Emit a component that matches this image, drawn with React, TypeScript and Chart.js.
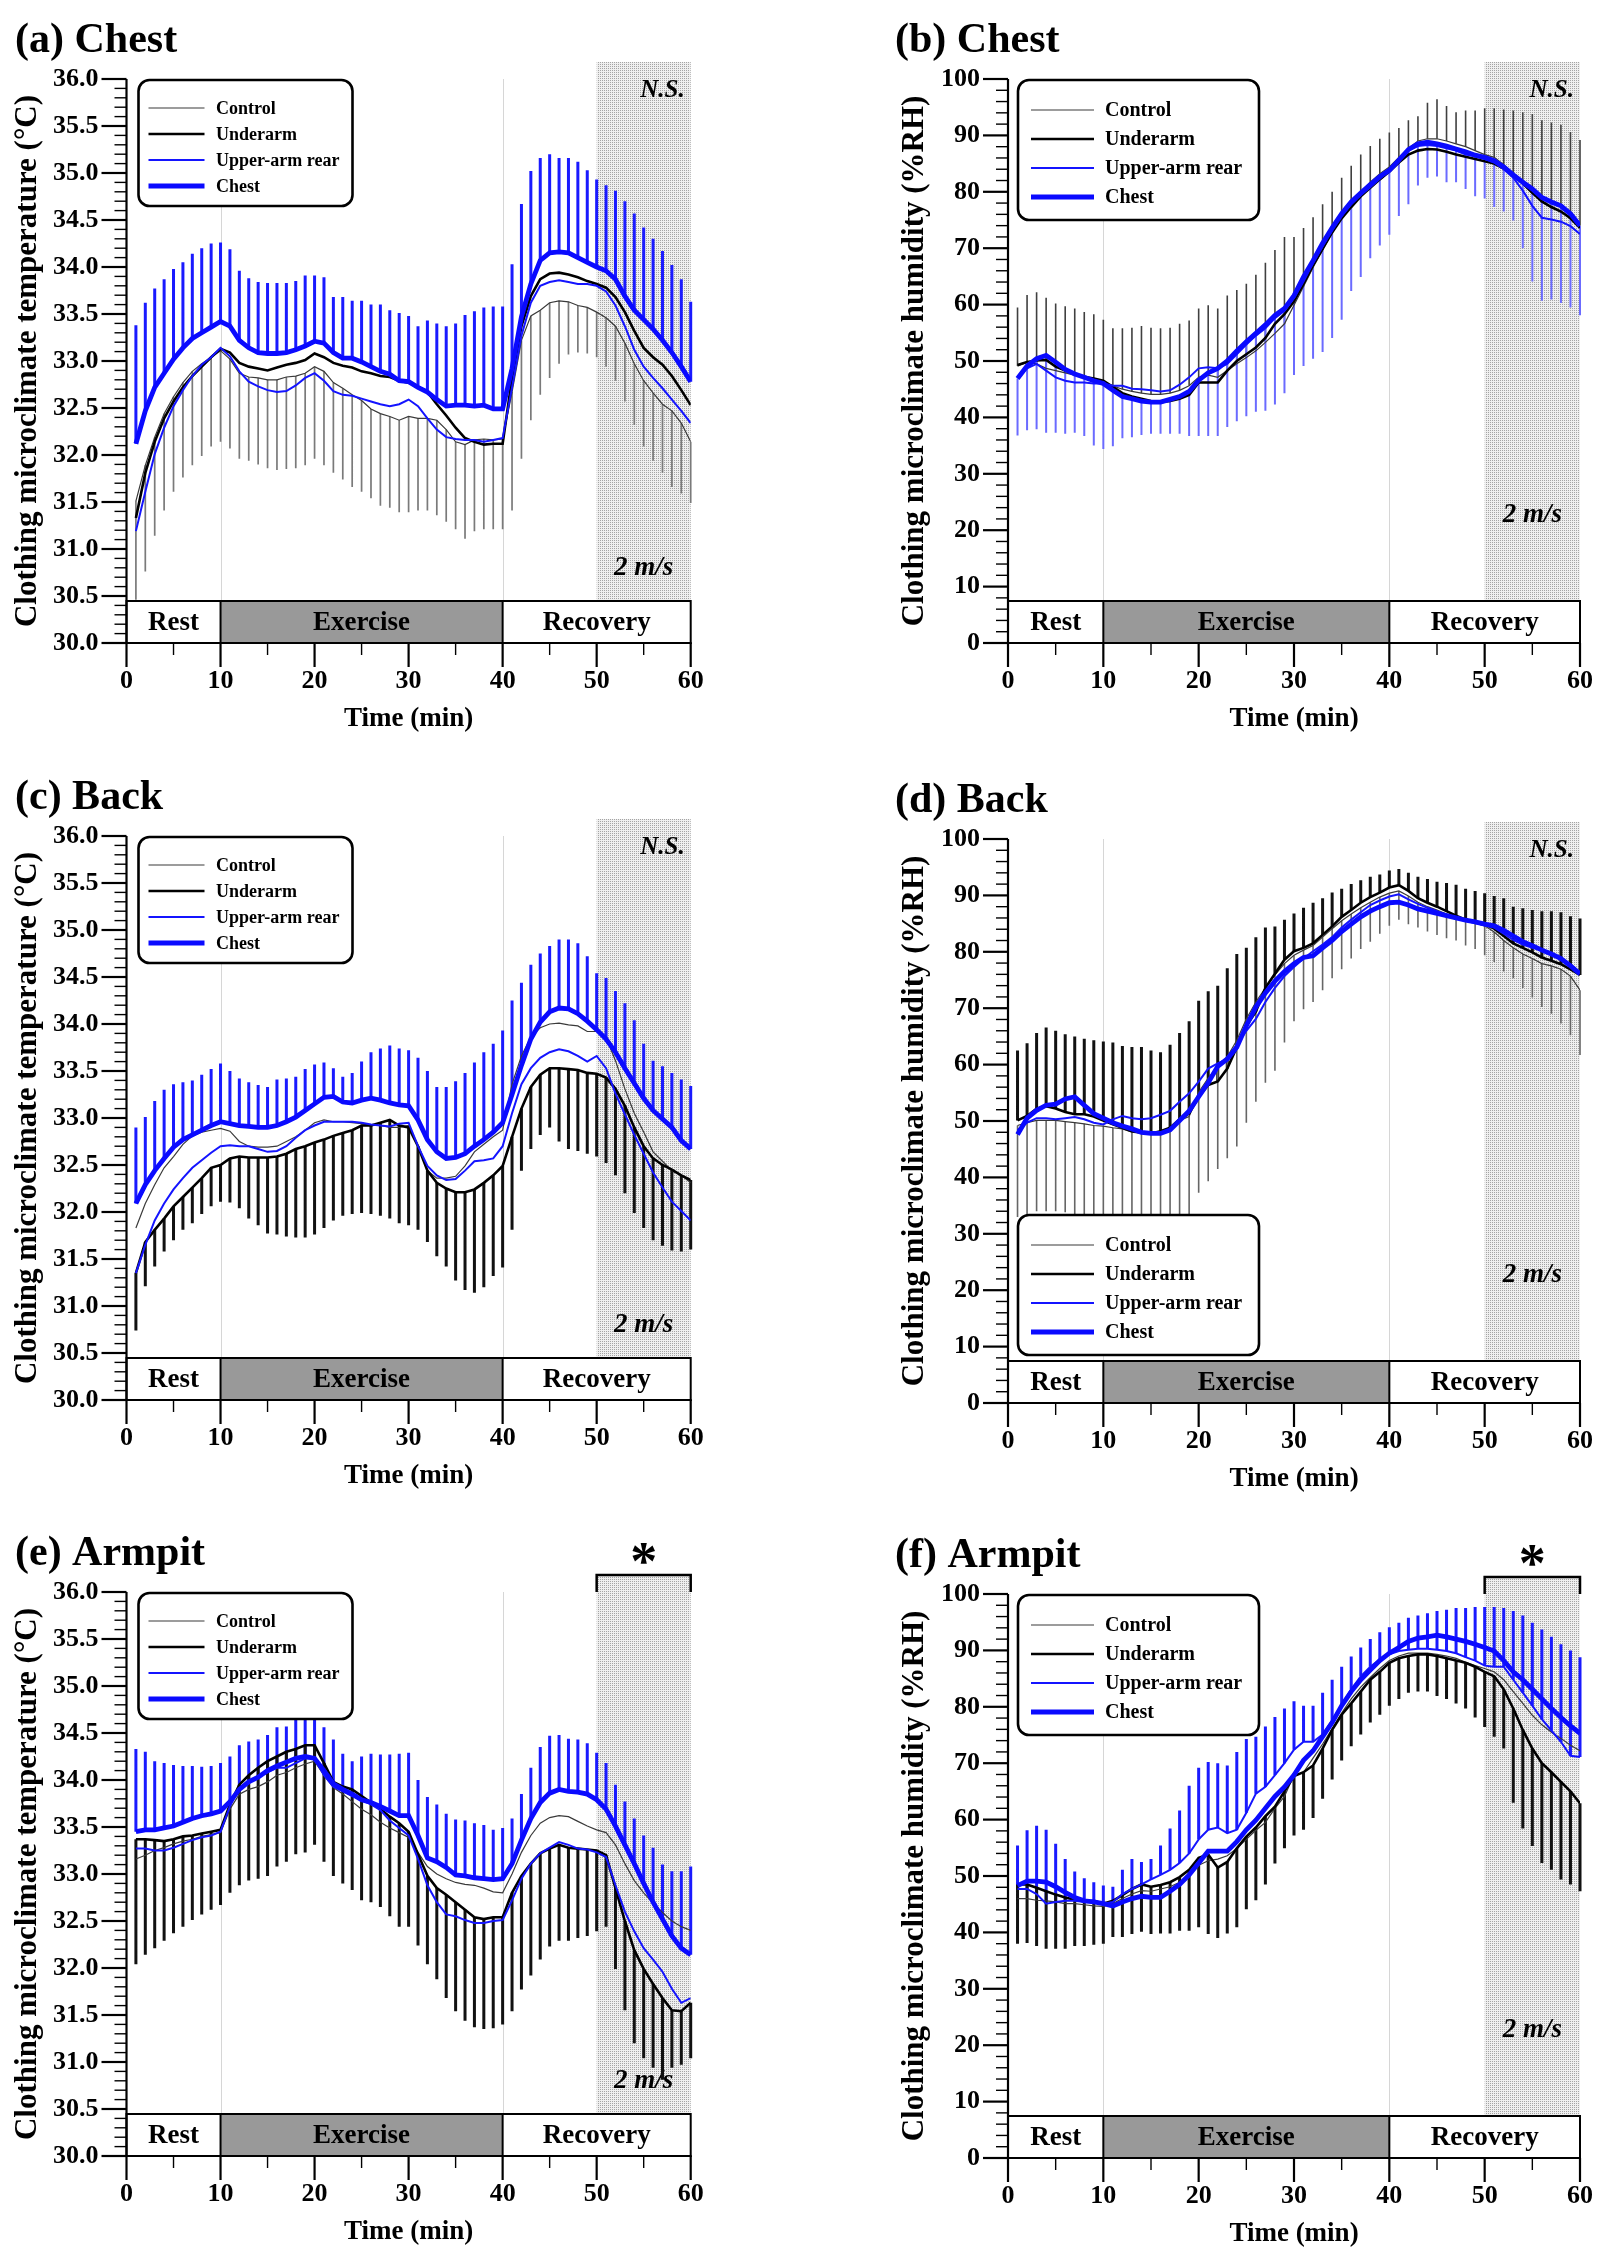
import React, { useEffect, useRef } from 'react';
import { Chart, registerables } from 'chart.js';

Chart.register(...registerables);

const FONT = "'Liberation Serif', 'Times New Roman', Times, serif";

// ---------- shared categories ----------
const minutes = [1,2,3,4,5,6,7,8,9,10,11,12,13,14,15,16,17,18,19,20,21,22,23,24,25,26,27,28,29,30,31,32,33,34,35,36,37,38,39,40,41,42,43,44,45,46,47,48,49,50,51,52,53,54,55,56,57,58,59,60];
const seriesLabels = ['Control', 'Underarm', 'Upper-arm rear', 'Chest'];
const phaseNames = ['Rest', 'Exercise', 'Recovery'];
const phaseEdges = [0, 10, 40, 60];
const windRange = [50, 60];
const windLabel = '2 m/s';
const tempTicks = { min: 30, max: 36, step: 0.5, minor: 0.1 };
const humTicks = { min: 0, max: 100, step: 10, minor: 2 };
const xTicks = { min: 0, max: 60, step: 10, minor: 5 };

// ---------- (a) Chest temperature ----------
const aControl = [31.51,31.89,32.19,32.44,32.62,32.77,32.89,32.97,33.04,33.11,33.02,32.87,32.83,32.82,32.80,32.80,32.83,32.84,32.87,32.94,32.89,32.77,32.71,32.64,32.58,32.49,32.44,32.41,32.37,32.41,32.39,32.39,32.37,32.27,32.14,32.11,32.16,32.17,32.16,32.17,32.67,33.22,33.48,33.54,33.62,33.64,33.63,33.59,33.57,33.52,33.46,33.37,33.19,32.97,32.79,32.66,32.54,32.47,32.34,32.14];
const aUnderarm = [31.33,31.81,32.14,32.39,32.57,32.72,32.84,32.94,33.04,33.13,33.09,32.98,32.94,32.92,32.90,32.93,32.96,32.98,33.01,33.08,33.04,32.98,32.95,32.93,32.89,32.87,32.84,32.83,32.79,32.77,32.72,32.67,32.54,32.42,32.29,32.18,32.14,32.11,32.12,32.12,32.82,33.37,33.69,33.87,33.93,33.94,33.92,33.89,33.85,33.82,33.78,33.68,33.52,33.32,33.14,33.04,32.96,32.84,32.69,32.53];
const aUpperArm = [31.19,31.61,32.01,32.29,32.52,32.69,32.84,32.96,33.04,33.14,33.05,32.89,32.78,32.73,32.69,32.67,32.68,32.74,32.82,32.87,32.79,32.68,32.64,32.63,32.60,32.57,32.54,32.52,32.54,32.59,32.52,32.39,32.27,32.19,32.17,32.16,32.16,32.14,32.16,32.18,32.72,33.27,33.62,33.80,33.84,33.86,33.84,33.82,33.82,33.80,33.74,33.59,33.37,33.12,32.94,32.82,32.71,32.59,32.47,32.34];
const aChest = [32.12,32.47,32.72,32.87,33.02,33.14,33.24,33.30,33.36,33.42,33.37,33.22,33.14,33.09,33.08,33.08,33.09,33.12,33.16,33.21,33.19,33.09,33.03,33.03,32.99,32.94,32.89,32.86,32.79,32.78,32.72,32.67,32.59,32.52,32.53,32.53,32.52,32.53,32.49,32.49,32.92,33.47,33.82,34.07,34.15,34.16,34.15,34.10,34.05,34.00,33.96,33.87,33.69,33.54,33.44,33.34,33.22,33.09,32.94,32.78];
const aChestUp = [33.38,33.62,33.77,33.87,33.98,34.05,34.14,34.20,34.25,34.26,34.19,33.96,33.88,33.84,33.83,33.83,33.83,33.85,33.91,33.91,33.89,33.68,33.68,33.64,33.64,33.60,33.60,33.54,33.51,33.48,33.37,33.43,33.40,33.37,33.40,33.49,33.53,33.57,33.58,33.58,34.03,34.67,35.02,35.16,35.20,35.16,35.16,35.12,35.03,34.93,34.87,34.81,34.70,34.57,34.42,34.30,34.17,34.02,33.87,33.63];
const aControlDown = [30.46,30.76,31.14,31.41,31.61,31.76,31.89,31.99,32.09,32.14,32.07,31.96,31.94,31.90,31.86,31.84,31.85,31.86,31.89,31.96,31.89,31.81,31.74,31.66,31.61,31.54,31.46,31.44,31.39,31.39,31.41,31.41,31.36,31.29,31.21,31.11,31.19,31.21,31.21,31.21,31.41,31.96,32.37,32.64,32.82,32.97,33.07,33.09,33.08,33.04,32.94,32.79,32.57,32.32,32.09,31.94,31.81,31.66,31.59,31.49];

// ---------- (b) Chest humidity ----------
const bControl = [49.1,49.8,49.5,48.7,48.3,47.9,47.5,47.1,46.6,46.2,45.6,45.0,44.6,44.3,44.1,44.1,44.3,44.8,45.6,47.1,47.5,47.1,48.3,49.5,50.6,51.8,53.3,54.9,56.6,59.9,63.2,66.6,69.7,72.8,75.7,78.0,80.0,81.7,83.2,84.4,86.1,87.7,89.0,89.4,89.4,89.0,88.5,88.0,87.3,86.6,86.1,84.8,83.3,81.5,79.8,78.2,77.2,76.5,75.5,74.0];
const bUnderarm = [49.3,49.8,50.1,50.2,49.0,48.3,47.7,47.2,46.9,46.5,45.4,44.3,43.7,43.3,42.9,42.7,42.9,43.3,44.0,46.2,46.2,46.2,48.3,50.0,51.2,52.4,54.1,56.6,58.3,60.6,63.7,67.0,69.9,72.8,75.3,77.3,79.2,80.7,82.2,83.6,85.2,86.6,87.3,87.6,87.5,87.1,86.6,86.2,85.8,85.4,85.0,84.1,83.0,81.5,79.8,78.3,77.3,76.5,75.3,73.6];
const bUpperArm = [47.1,48.7,49.5,48.3,47.1,46.5,46.2,46.2,46.0,46.0,45.6,45.6,45.1,45.0,44.8,44.6,44.8,45.8,47.1,48.7,48.9,48.7,49.5,51.2,52.9,54.5,55.8,57.6,58.9,61.2,64.1,67.4,70.3,73.2,75.7,77.8,79.4,80.8,82.3,83.8,85.6,87.3,88.1,88.3,88.1,87.7,87.3,86.6,86.3,85.8,85.2,84.0,82.5,80.2,77.5,75.4,75.1,74.7,73.9,72.5];
const bChest = [46.9,49.1,50.4,51.0,49.8,48.5,47.7,47.1,46.5,46.0,44.8,43.7,43.3,42.9,42.7,42.7,43.2,43.7,44.6,46.6,47.9,48.7,50.0,51.8,53.4,54.9,56.4,58.1,59.3,61.6,64.9,67.8,70.9,73.6,76.1,78.2,79.8,81.3,82.7,83.8,85.6,87.5,88.5,88.8,88.5,88.1,87.6,87.1,86.5,86.1,85.5,84.4,83.0,81.7,80.5,79.0,78.2,77.5,76.1,74.0];
const bControlUp = [59.5,61.7,62.2,61.2,60.2,59.7,59.3,58.7,58.3,57.3,55.8,55.8,55.9,56.2,55.9,55.8,55.9,56.6,57.2,59.3,59.9,59.3,61.6,62.6,63.7,65.3,67.4,69.7,72.0,72.0,73.6,75.5,77.8,80.0,82.5,84.6,86.6,88.1,89.4,90.5,91.3,92.7,93.4,95.8,96.4,95.2,94.1,94.4,94.4,94.8,94.8,94.6,94.4,94.1,93.8,92.7,92.3,91.9,90.6,89.2];
const bChestDown = [36.8,37.7,37.9,37.3,37.3,37.1,37.3,36.7,35.0,34.4,34.9,36.3,36.5,36.9,37.1,37.1,37.1,37.1,36.7,36.7,36.7,36.7,38.3,39.3,40.2,41.0,41.2,42.3,44.3,47.5,49.1,50.4,51.6,54.1,57.3,62.4,64.9,68.2,70.5,72.4,75.7,77.8,81.1,82.5,82.7,81.7,81.7,80.5,79.2,78.8,77.3,76.5,74.9,70.0,64.1,60.7,60.9,60.3,59.5,58.1];

// ---------- (c) Back temperature ----------
const cControl = [31.83,32.09,32.29,32.47,32.59,32.72,32.81,32.85,32.87,32.89,32.86,32.75,32.70,32.69,32.69,32.70,32.75,32.80,32.87,32.95,32.98,32.96,32.96,32.95,32.94,32.92,32.92,32.90,32.90,32.92,32.70,32.44,32.36,32.36,32.38,32.49,32.64,32.72,32.80,32.87,33.36,33.66,33.86,33.96,34.00,34.01,33.99,33.98,33.92,33.92,33.86,33.61,33.31,33.05,32.85,32.64,32.54,32.44,32.39,32.31];
const cUnderarm = [31.35,31.68,31.81,31.93,32.06,32.16,32.26,32.36,32.47,32.50,32.57,32.59,32.58,32.58,32.58,32.59,32.62,32.67,32.70,32.74,32.77,32.81,32.84,32.87,32.92,32.92,32.95,32.98,32.92,32.90,32.70,32.44,32.31,32.25,32.21,32.21,32.24,32.31,32.39,32.49,32.80,33.10,33.33,33.46,33.53,33.53,33.52,33.51,33.48,33.47,33.43,33.31,33.13,32.90,32.70,32.57,32.50,32.45,32.39,32.34];
const cUpperArm = [31.35,31.65,31.91,32.09,32.24,32.36,32.47,32.55,32.63,32.70,32.71,32.70,32.70,32.67,32.64,32.65,32.70,32.79,32.87,32.92,32.96,32.96,32.96,32.96,32.95,32.93,32.92,32.91,32.94,32.95,32.70,32.49,32.39,32.34,32.35,32.44,32.54,32.55,32.57,32.70,33.05,33.36,33.53,33.64,33.70,33.73,33.71,33.66,33.60,33.66,33.53,33.26,33.04,32.82,32.62,32.42,32.26,32.11,32.01,31.91];
const cChest = [32.09,32.29,32.44,32.57,32.69,32.77,32.82,32.87,32.92,32.96,32.94,32.92,32.91,32.90,32.90,32.92,32.96,33.01,33.08,33.15,33.22,33.23,33.17,33.16,33.19,33.21,33.19,33.16,33.14,33.13,32.98,32.77,32.64,32.57,32.58,32.62,32.70,32.77,32.85,32.95,33.25,33.56,33.84,34.02,34.13,34.17,34.16,34.11,34.03,33.94,33.84,33.70,33.53,33.37,33.21,33.08,32.99,32.90,32.76,32.67];
const cChestUp = [32.90,33.01,33.18,33.30,33.36,33.38,33.40,33.46,33.52,33.58,33.50,33.42,33.38,33.35,33.33,33.41,33.42,33.44,33.52,33.57,33.59,33.53,33.44,33.48,33.60,33.70,33.74,33.77,33.74,33.72,33.64,33.50,33.33,33.33,33.39,33.48,33.59,33.70,33.79,33.93,34.25,34.44,34.63,34.75,34.83,34.90,34.90,34.86,34.72,34.54,34.49,34.35,34.22,34.04,33.79,33.61,33.55,33.48,33.41,33.34];
const cUnderarmDown = [30.74,31.21,31.42,31.58,31.70,31.81,31.88,31.98,32.06,32.11,32.10,32.04,31.93,31.86,31.77,31.76,31.74,31.73,31.73,31.76,31.83,31.91,31.96,31.98,31.99,31.98,31.96,31.93,31.88,31.86,31.81,31.68,31.53,31.42,31.27,31.17,31.14,31.20,31.32,31.41,31.81,32.44,32.67,32.82,32.90,32.75,32.67,32.65,32.62,32.59,32.52,32.39,32.20,31.99,31.83,31.70,31.64,31.59,31.58,31.60];

// ---------- (d) Back humidity ----------
const dControl = [49.2,49.7,50.1,50.1,50.1,49.9,49.7,49.5,49.2,49.1,48.8,48.6,48.0,47.8,47.8,47.7,48.8,50.1,50.8,55.1,57.6,59.7,61.4,64.3,68.1,71.1,73.6,75.9,77.9,79.4,80.3,81.1,82.6,84.1,85.5,86.7,87.8,88.8,89.7,90.4,90.8,89.9,88.8,88.0,87.4,86.7,86.2,85.6,85.1,84.6,83.5,82.0,80.7,79.6,78.8,77.9,77.5,76.9,75.7,73.2];
const dUnderarm = [50.1,50.9,52.2,52.6,52.2,51.6,51.2,51.2,50.8,50.1,49.4,48.8,48.2,48.0,47.8,48.2,48.8,50.3,51.3,54.3,56.4,57.0,59.3,63.1,66.9,69.4,73.6,76.1,78.6,80.1,80.7,81.5,83.0,84.5,86.2,87.4,88.7,89.7,90.5,91.4,91.8,90.8,89.5,88.7,88.0,87.2,86.4,85.7,85.3,84.9,84.1,82.8,81.5,80.7,79.9,79.0,78.4,77.8,76.9,75.9];
const dUpperArm = [48.4,49.7,50.5,50.5,50.3,50.5,50.7,50.3,49.7,49.4,50.3,50.9,50.5,50.3,50.5,51.1,51.8,53.4,54.9,57.0,59.3,60.2,61.0,63.5,66.0,68.1,71.1,73.6,75.7,77.3,78.8,80.1,81.3,82.6,84.3,85.7,87.0,88.3,89.1,89.8,90.2,89.3,88.5,87.8,87.2,86.6,86.0,85.5,85.1,84.7,84.3,83.2,82.1,81.3,80.7,80.3,79.6,78.8,77.8,76.3];
const dChest = [47.6,50.5,51.9,52.8,53.0,53.9,54.3,52.8,51.3,50.5,49.7,49.1,48.6,48.0,47.8,47.8,48.4,50.1,51.8,54.3,56.8,59.7,61.0,63.1,66.9,70.2,72.7,74.8,76.5,77.9,79.0,79.3,80.7,82.0,83.6,84.9,86.2,87.2,88.0,88.7,88.8,88.3,87.6,87.2,86.8,86.4,86.0,85.6,85.3,84.9,84.6,83.8,82.8,81.8,81.1,80.3,79.6,78.8,77.5,76.1];
const dUnderarmUp = [62.5,63.8,65.6,66.6,66.0,65.4,65.0,64.6,64.3,64.1,63.9,63.3,63.1,63.1,62.5,62.2,63.5,65.6,67.7,71.3,73.0,74.0,77.1,79.6,80.7,82.6,84.3,84.5,85.7,86.8,87.8,88.7,89.5,90.5,91.2,92.0,92.7,93.3,93.7,94.4,94.7,94.0,93.3,92.9,92.4,92.2,91.9,91.2,90.8,90.4,89.9,89.5,88.0,87.7,87.4,87.2,87.2,87.0,86.3,85.9];
const dControlDown = [33.0,33.5,34.0,34.0,34.0,33.8,33.5,33.5,33.2,33.0,33.0,32.8,32.5,32.5,32.5,32.5,33.0,33.5,33.5,37.3,39.3,41.5,43.4,45.5,49.7,53.4,56.8,58.9,63.9,67.7,69.8,71.1,73.2,75.3,76.9,78.8,80.5,81.8,83.2,84.6,85.7,84.9,84.3,83.6,83.0,82.4,82.0,81.1,80.5,79.4,78.2,76.5,75.3,73.6,71.9,70.2,69.0,67.3,65.2,61.7];

// ---------- (e) Armpit temperature ----------
const eControl = [33.16,33.20,33.25,33.28,33.32,33.35,33.37,33.40,33.42,33.44,33.69,33.85,33.90,33.93,33.98,34.05,34.08,34.13,34.17,34.20,34.05,33.92,33.85,33.77,33.69,33.63,33.55,33.49,33.44,33.39,33.23,33.08,33.00,32.95,32.91,32.89,32.88,32.85,32.81,32.80,33.00,33.23,33.41,33.54,33.60,33.62,33.61,33.56,33.51,33.47,33.44,33.31,33.11,32.93,32.80,32.69,32.59,32.50,32.44,32.40];
const eUnderarm = [33.37,33.37,33.36,33.35,33.37,33.40,33.41,33.43,33.45,33.47,33.74,33.95,34.05,34.13,34.20,34.25,34.30,34.33,34.37,34.37,34.18,33.98,33.93,33.90,33.83,33.76,33.69,33.61,33.54,33.45,33.21,32.98,32.85,32.78,32.70,32.62,32.54,32.52,32.54,32.54,32.80,32.98,33.11,33.22,33.27,33.31,33.28,33.27,33.26,33.25,33.20,32.85,32.50,32.19,31.99,31.83,31.68,31.55,31.54,31.63];
const eUpperArm = [33.27,33.27,33.25,33.25,33.28,33.32,33.36,33.39,33.41,33.45,33.72,33.91,33.98,34.03,34.08,34.13,34.13,34.18,34.23,34.23,34.05,33.93,33.88,33.83,33.79,33.74,33.68,33.57,33.49,33.41,33.16,32.88,32.70,32.57,32.55,32.51,32.48,32.48,32.50,32.51,32.72,32.95,33.11,33.22,33.28,33.34,33.31,33.27,33.26,33.23,33.18,32.88,32.60,32.39,32.21,32.09,31.96,31.78,31.63,31.68];
const eChest = [33.45,33.47,33.47,33.49,33.51,33.55,33.59,33.62,33.64,33.67,33.77,33.90,33.98,34.03,34.10,34.15,34.19,34.23,34.25,34.23,34.10,33.96,33.90,33.85,33.79,33.76,33.72,33.67,33.62,33.62,33.41,33.17,33.13,33.07,32.99,32.98,32.96,32.95,32.94,32.95,33.11,33.36,33.59,33.76,33.86,33.90,33.88,33.87,33.85,33.79,33.69,33.51,33.31,33.11,32.90,32.70,32.52,32.34,32.21,32.14];
const eChestUp = [34.33,34.30,34.20,34.18,34.16,34.15,34.15,34.14,34.15,34.18,34.25,34.37,34.41,34.43,34.48,34.56,34.57,34.70,34.72,34.72,34.56,34.43,34.28,34.20,34.25,34.28,34.27,34.27,34.28,34.29,34.00,33.82,33.74,33.64,33.58,33.57,33.54,33.52,33.47,33.49,33.59,33.85,34.13,34.35,34.47,34.48,34.44,34.43,34.39,34.29,34.18,33.95,33.77,33.59,33.41,33.28,33.10,33.03,33.03,33.08];
const eUnderarmDown = [32.04,32.14,32.21,32.29,32.37,32.44,32.51,32.57,32.62,32.67,32.80,32.88,32.93,32.95,32.98,33.08,33.13,33.21,33.23,33.31,33.13,32.98,32.90,32.83,32.72,32.70,32.65,32.55,32.44,32.44,32.24,32.04,31.88,31.68,31.54,31.44,31.37,31.35,31.36,31.40,31.54,31.77,31.92,32.09,32.23,32.29,32.29,32.32,32.34,32.39,32.44,31.99,31.55,31.20,31.04,30.94,30.81,30.94,30.97,31.04];

// ---------- (f) Armpit humidity ----------
const fControl = [46.0,46.0,45.7,45.6,45.4,45.1,45.1,44.9,44.7,44.6,45.1,46.0,46.8,47.4,47.3,47.7,48.1,48.9,50.2,51.9,52.7,53.0,53.6,54.9,56.5,58.1,59.5,62.0,64.1,67.9,68.4,70.9,73.4,76.1,78.9,81.4,83.5,85.2,86.8,88.2,89.0,89.5,89.5,89.5,89.3,89.0,88.6,87.9,87.3,86.8,86.2,84.8,82.7,80.6,78.5,76.8,75.5,74.4,73.2,72.2];
const fUnderarm = [48.5,48.5,47.9,47.3,46.7,46.2,45.8,45.6,45.4,45.1,45.6,46.6,47.7,48.5,48.1,48.4,48.9,49.8,51.1,53.2,53.8,51.5,52.5,54.9,57.0,58.6,60.6,62.3,65.0,67.7,68.4,69.6,72.6,75.9,78.6,80.6,82.7,84.8,86.2,87.8,88.6,89.0,89.3,89.3,89.0,88.6,88.2,87.8,87.1,86.2,85.4,83.1,79.7,75.9,72.6,70.0,68.4,66.7,65.0,62.9];
const fUpperArm = [47.7,47.7,46.8,45.1,45.4,45.6,45.6,45.4,45.7,45.1,45.4,46.8,47.7,48.5,49.4,50.2,51.1,52.3,54.0,56.5,58.2,58.6,57.6,58.2,61.2,64.6,65.8,67.9,70.0,72.4,73.8,73.8,75.1,77.6,80.3,83.1,85.4,87.1,88.4,89.3,89.9,90.1,90.3,90.3,90.1,89.9,89.5,88.8,88.2,87.3,87.1,87.1,84.8,82.5,80.2,77.8,75.8,73.8,71.3,71.1];
const fChest = [48.3,49.1,49.1,48.9,48.1,47.1,46.2,45.6,45.4,45.1,44.7,45.4,46.0,46.4,46.2,46.2,47.3,48.5,50.2,52.3,54.4,54.4,54.4,56.1,58.2,59.9,62.0,64.1,65.8,67.9,70.5,72.2,74.7,77.2,80.2,82.7,84.8,86.5,88.2,89.5,90.5,91.6,92.2,92.4,92.7,92.4,92.0,91.6,91.1,90.5,89.9,88.2,86.2,84.8,83.1,81.4,79.7,78.1,76.6,75.3];
const fUpperArmUp = [55.4,58.1,58.9,58.2,55.7,53.0,50.8,49.6,48.9,48.3,48.1,51.1,53.0,52.5,53.0,55.4,58.4,61.6,66.0,69.2,70.2,70.0,69.6,72.0,74.3,74.7,76.5,78.2,79.7,81.0,80.2,80.2,82.5,84.8,87.1,88.9,90.5,92.0,93.2,94.1,94.9,95.8,96.2,96.6,97.0,97.2,97.5,97.5,97.7,97.7,97.7,97.5,97.0,96.2,94.9,93.7,92.4,91.1,90.0,88.8];
const fUnderarmDown = [38.0,38.1,37.6,37.1,37.1,37.1,37.6,37.6,37.8,38.0,39.2,39.2,39.7,40.1,39.7,39.8,39.8,40.3,40.3,40.9,39.7,39.0,39.8,40.9,44.1,45.7,48.5,52.2,54.9,57.2,58.2,60.3,63.7,67.1,70.5,73.0,75.1,77.2,78.6,80.2,81.4,82.5,82.7,82.7,81.9,81.4,80.6,79.7,78.1,76.4,74.7,72.6,63.0,58.4,55.3,52.3,51.1,49.4,48.5,47.3];

// ---------- styles & layout (not data) ----------
const seriesStyles = [
  { color: '#3a3a3a', width: 1.2 },
  { color: '#000000', width: 2.6 },
  { color: '#1414ff', width: 2 },
  { color: '#0a0aff', width: 4.8 },
];
const phaseFills = ['#ffffff', '#999999', '#ffffff'];
const BLUE_BAR = '#1a1aff';
const BLACK_BAR = '#111111';

// right padding must exceed the x-label overhang (half label + tick padding) so it is honoured exactly
const COLS = [
  { left: 0, width: 780, yWidth: 126.5, rightPad: 89.3, titlePad: 9.4, rowTops: [0, 757, 1513] },
  { left: 880, width: 740, yWidth: 128, rightPad: 40, titlePad: 16.7, rowTops: [0, 760, 1515] },
];
const CANVAS_H = 740;
const TOP_PAD = 79;
const X_BOX_H = 97;
const BAND_H = 42;

type Bar = { base: number; tips: number[]; color: string; width: number };
type PanelCfg = {
  key: string; title: string; kind: 'temp' | 'hum'; col: number; row: number;
  series: number[][]; bars: Bar[]; legend: 'top' | 'bottom'; sig: string; windY: number;
};

const panels: PanelCfg[] = [
  { key: 'a', title: '(a) Chest', kind: 'temp', col: 0, row: 0,
    series: [aControl, aUnderarm, aUpperArm, aChest],
    bars: [{ base: 3, tips: aChestUp, color: BLUE_BAR, width: 3 }, { base: 0, tips: aControlDown, color: '#7a7a7a', width: 1.7 }],
    legend: 'top', sig: 'N.S.', windY: 30.8 },
  { key: 'b', title: '(b) Chest', kind: 'hum', col: 1, row: 0,
    series: [bControl, bUnderarm, bUpperArm, bChest],
    bars: [{ base: 0, tips: bControlUp, color: '#404040', width: 1.6 }, { base: 3, tips: bChestDown, color: '#6b6bff', width: 2 }],
    legend: 'top', sig: 'N.S.', windY: 22.7 },
  { key: 'c', title: '(c) Back', kind: 'temp', col: 0, row: 1,
    series: [cControl, cUnderarm, cUpperArm, cChest],
    bars: [{ base: 3, tips: cChestUp, color: BLUE_BAR, width: 3 }, { base: 1, tips: cUnderarmDown, color: BLACK_BAR, width: 3 }],
    legend: 'top', sig: 'N.S.', windY: 30.8 },
  { key: 'd', title: '(d) Back', kind: 'hum', col: 1, row: 1,
    series: [dControl, dUnderarm, dUpperArm, dChest],
    bars: [{ base: 1, tips: dUnderarmUp, color: BLACK_BAR, width: 3 }, { base: 0, tips: dControlDown, color: '#666666', width: 1.6 }],
    legend: 'bottom', sig: 'N.S.', windY: 22.7 },
  { key: 'e', title: '(e) Armpit', kind: 'temp', col: 0, row: 2,
    series: [eControl, eUnderarm, eUpperArm, eChest],
    bars: [{ base: 3, tips: eChestUp, color: BLUE_BAR, width: 3 }, { base: 1, tips: eUnderarmDown, color: BLACK_BAR, width: 3 }],
    legend: 'top', sig: '*', windY: 30.8 },
  { key: 'f', title: '(f) Armpit', kind: 'hum', col: 1, row: 2,
    series: [fControl, fUnderarm, fUpperArm, fChest],
    bars: [{ base: 2, tips: fUpperArmUp, color: BLUE_BAR, width: 3 }, { base: 1, tips: fUnderarmDown, color: BLACK_BAR, width: 3 }],
    legend: 'top', sig: '*', windY: 22.7 },
];

function makePattern(ctx: CanvasRenderingContext2D) {
  const c = document.createElement('canvas');
  c.width = 2; c.height = 2;
  const g = c.getContext('2d')!;
  g.fillStyle = '#efefef';
  g.fillRect(0, 0, 2, 2);
  g.fillStyle = '#a4a4a4';
  g.fillRect(0, 0, 1, 1);
  return ctx.createPattern(c, 'repeat');
}

function roundRectPath(ctx: CanvasRenderingContext2D, x: number, y: number, w: number, h: number, r: number) {
  ctx.beginPath();
  ctx.moveTo(x + r, y);
  ctx.arcTo(x + w, y, x + w, y + h, r);
  ctx.arcTo(x + w, y + h, x, y + h, r);
  ctx.arcTo(x, y + h, x, y, r);
  ctx.arcTo(x, y, x + w, y, r);
  ctx.closePath();
}

function decorPlugin(cfg: PanelCfg) {
  let pattern: CanvasPattern | null = null;
  const ticksCfg = cfg.kind === 'temp' ? tempTicks : humTicks;
  return {
    id: 'decor_' + cfg.key,
    beforeDatasetsDraw(chart: any) {
      const { ctx, chartArea } = chart;
      const { top, bottom } = chartArea;
      const x = chart.scales.x, y = chart.scales.y;
      const bandTop = bottom - BAND_H;
      ctx.save();
      if (!pattern) pattern = makePattern(ctx);
      const wx0 = x.getPixelForValue(windRange[0]);
      const wx1 = x.getPixelForValue(windRange[1]);
      const shadeTop = top - 17;
      ctx.fillStyle = pattern as any;
      ctx.fillRect(wx0, shadeTop, wx1 - wx0, bandTop - shadeTop);
      // faint phase separators
      ctx.strokeStyle = '#d6d6d6';
      ctx.lineWidth = 1;
      [phaseEdges[1], phaseEdges[2]].forEach((v) => {
        const px = Math.round(x.getPixelForValue(v)) + 0.5;
        ctx.beginPath(); ctx.moveTo(px, top); ctx.lineTo(px, bandTop); ctx.stroke();
      });
      // annotations
      ctx.fillStyle = '#000';
      ctx.textBaseline = 'middle';
      ctx.textAlign = 'center';
      ctx.font = `italic bold 27px ${FONT}`;
      ctx.fillText(windLabel, x.getPixelForValue((windRange[0] + windRange[1]) / 2), y.getPixelForValue(cfg.windY));
      if (cfg.sig === 'N.S.') {
        ctx.font = `italic bold 25px ${FONT}`;
        ctx.textAlign = 'right';
        ctx.fillText('N.S.', wx1 - 6, top + 12);
      }
      // error bars (one-sided SD)
      ctx.lineCap = 'butt';
      cfg.bars.forEach((b) => {
        const base = cfg.series[b.base];
        ctx.strokeStyle = b.color;
        ctx.lineWidth = b.width;
        ctx.beginPath();
        minutes.forEach((m, j) => {
          const px = x.getPixelForValue(m);
          ctx.moveTo(px, y.getPixelForValue(base[j]));
          ctx.lineTo(px, y.getPixelForValue(b.tips[j]));
        });
        ctx.stroke();
      });
      ctx.restore();
    },
    afterDatasetsDraw(chart: any) {
      const { ctx, chartArea } = chart;
      const { left, right, top, bottom } = chartArea;
      const x = chart.scales.x, y = chart.scales.y;
      const bandTop = bottom - BAND_H;
      ctx.save();
      // phase band
      for (let i = 0; i < phaseNames.length; i++) {
        const p0 = x.getPixelForValue(phaseEdges[i]);
        const p1 = x.getPixelForValue(phaseEdges[i + 1]);
        ctx.fillStyle = phaseFills[i];
        ctx.fillRect(p0, bandTop, p1 - p0, BAND_H);
      }
      ctx.strokeStyle = '#000';
      ctx.lineWidth = 2;
      ctx.strokeRect(left, bandTop, right - left, BAND_H);
      for (let i = 1; i < phaseEdges.length - 1; i++) {
        const px = x.getPixelForValue(phaseEdges[i]);
        ctx.beginPath(); ctx.moveTo(px, bandTop); ctx.lineTo(px, bottom); ctx.stroke();
      }
      ctx.fillStyle = '#000';
      ctx.font = `bold 27px ${FONT}`;
      ctx.textAlign = 'center';
      ctx.textBaseline = 'middle';
      for (let i = 0; i < phaseNames.length; i++) {
        const cx = (x.getPixelForValue(phaseEdges[i]) + x.getPixelForValue(phaseEdges[i + 1])) / 2;
        ctx.fillText(phaseNames[i], cx, bandTop + BAND_H / 2 + 1);
      }
      // axes
      ctx.strokeStyle = '#000';
      ctx.lineWidth = 2.2;
      ctx.beginPath(); ctx.moveTo(left, top); ctx.lineTo(left, bottom); ctx.stroke();
      ctx.beginPath(); ctx.moveTo(left, bottom); ctx.lineTo(right + 1, bottom); ctx.stroke();
      // y ticks
      const nMinor = Math.round((ticksCfg.max - ticksCfg.min) / ticksCfg.minor);
      const per = Math.round(ticksCfg.step / ticksCfg.minor);
      for (let k = 0; k <= nMinor; k++) {
        const v = ticksCfg.min + k * ticksCfg.minor;
        const major = k % per === 0;
        const py = y.getPixelForValue(v);
        ctx.lineWidth = major ? 2.2 : 1.4;
        ctx.beginPath(); ctx.moveTo(left - (major ? 25 : 12), py); ctx.lineTo(left, py); ctx.stroke();
      }
      // x ticks
      const nx = Math.round((xTicks.max - xTicks.min) / xTicks.minor);
      const perx = Math.round(xTicks.step / xTicks.minor);
      for (let k = 0; k <= nx; k++) {
        const v = xTicks.min + k * xTicks.minor;
        const major = k % perx === 0;
        const px = x.getPixelForValue(v);
        ctx.lineWidth = major ? 2.2 : 1.4;
        ctx.beginPath(); ctx.moveTo(px, bottom); ctx.lineTo(px, bottom + (major ? 24 : 12)); ctx.stroke();
      }
      // significance bracket
      if (cfg.sig === '*') {
        const wx0 = x.getPixelForValue(windRange[0]);
        const wx1 = x.getPixelForValue(windRange[1]);
        ctx.lineWidth = 2.5;
        ctx.beginPath();
        ctx.moveTo(wx0, top); ctx.lineTo(wx0, top - 17); ctx.lineTo(wx1, top - 17); ctx.lineTo(wx1, top);
        ctx.stroke();
        ctx.font = `bold 54px ${FONT}`;
        ctx.textAlign = 'center';
        ctx.textBaseline = 'alphabetic';
        ctx.fillText('*', (wx0 + wx1) / 2, top - 13);
      }
      // legend
      const L = cfg.kind === 'temp'
        ? { w: 214, h: 126, dx: 12, rowY: 28, rowH: 26, lx0: 10, lx1: 66, tx: 77.5, font: 18 }
        : { w: 241, h: 140, dx: 10, rowY: 30, rowH: 29, lx0: 13, lx1: 76, tx: 87, font: 20 };
      const bx = left + L.dx;
      const by = cfg.legend === 'top' ? top + 1 : bandTop - 6 - L.h;
      roundRectPath(ctx, bx, by, L.w, L.h, 11);
      ctx.fillStyle = '#fff';
      ctx.fill();
      ctx.lineWidth = 2.6;
      ctx.strokeStyle = '#000';
      ctx.stroke();
      ctx.font = `bold ${L.font}px ${FONT}`;
      ctx.textAlign = 'left';
      ctx.textBaseline = 'middle';
      chart.data.datasets.forEach((ds: any, i: number) => {
        const yy = by + L.rowY + i * L.rowH;
        ctx.strokeStyle = ds.borderColor;
        ctx.lineWidth = ds.borderWidth;
        ctx.beginPath(); ctx.moveTo(bx + L.lx0, yy); ctx.lineTo(bx + L.lx1, yy); ctx.stroke();
        ctx.fillStyle = '#000';
        ctx.fillText(ds.label, bx + L.tx, yy + 1);
      });
      ctx.restore();
    },
    afterDraw(chart: any) {
      const { ctx } = chart;
      ctx.save();
      ctx.fillStyle = '#000';
      ctx.font = `bold 42px ${FONT}`;
      ctx.textAlign = 'left';
      ctx.textBaseline = 'alphabetic';
      ctx.fillText(cfg.title, 15, 52);
      ctx.restore();
    },
  };
}

function Panel({ cfg }: { cfg: PanelCfg }) {
  const ref = useRef<HTMLCanvasElement>(null);
  const col = COLS[cfg.col];
  useEffect(() => {
    const canvas = ref.current;
    if (!canvas) return;
    const ticksCfg = cfg.kind === 'temp' ? tempTicks : humTicks;
    const chart = new Chart(canvas, {
      type: 'line',
      data: {
        datasets: cfg.series.map((vals, i) => ({
          label: seriesLabels[i],
          data: minutes.map((m, j) => ({ x: m, y: vals[j] })),
          borderColor: seriesStyles[i].color,
          borderWidth: seriesStyles[i].width,
          pointRadius: 0,
          tension: 0,
          fill: false,
          order: 3 - i,
        })),
      },
      options: {
        animation: false,
        responsive: false,
        maintainAspectRatio: false,
        events: [],
        layout: { padding: { left: 0, top: TOP_PAD, right: col.rightPad, bottom: 0 } },
        plugins: { legend: { display: false }, tooltip: { enabled: false }, title: { display: false } },
        scales: {
          x: {
            type: 'linear',
            min: xTicks.min,
            max: xTicks.max,
            afterFit: (s: any) => { s.height = X_BOX_H; },
            grid: { display: false, drawTicks: false },
            border: { display: false },
            ticks: {
              stepSize: xTicks.step, autoSkip: false, maxRotation: 0, padding: 23, color: '#000',
              font: { family: FONT, size: 26, weight: 'bold' },
            },
            title: {
              display: true, text: 'Time (min)', color: '#000',
              font: { family: FONT, size: 27, weight: 'bold' }, padding: { top: 0, bottom: 5 },
            },
          },
          y: {
            type: 'linear',
            min: ticksCfg.min,
            max: ticksCfg.max,
            afterFit: (s: any) => { s.width = col.yWidth; },
            grid: { display: false, drawTicks: false },
            border: { display: false },
            ticks: {
              stepSize: ticksCfg.step, autoSkip: false, padding: 28, color: '#000',
              font: { family: FONT, size: 26, weight: 'bold' },
              callback: (v: any) => (cfg.kind === 'temp' ? Number(v).toFixed(1) : String(Math.round(Number(v)))),
            },
            title: {
              display: true,
              text: cfg.kind === 'temp' ? 'Clothing microclimate temperature (°C)' : 'Clothing microclimate humidity (%RH)',
              color: '#000',
              font: { family: FONT, size: 31, weight: 'bold' },
              padding: { top: col.titlePad, bottom: 0 },
            },
          },
        },
      } as any,
      plugins: [decorPlugin(cfg) as any],
    });
    return () => chart.destroy();
  }, [cfg]);
  return (
    <canvas
      ref={ref}
      width={col.width}
      height={CANVAS_H}
      style={{ position: 'absolute', left: col.left, top: col.rowTops[cfg.row], width: col.width, height: CANVAS_H }}
    />
  );
}

export default function App() {
  return (
    <div style={{ position: 'absolute', left: 0, top: 0, width: 1604, height: 2261, background: '#fff', overflow: 'hidden' }}>
      {panels.map((p) => (
        <Panel key={p.key} cfg={p} />
      ))}
    </div>
  );
}
